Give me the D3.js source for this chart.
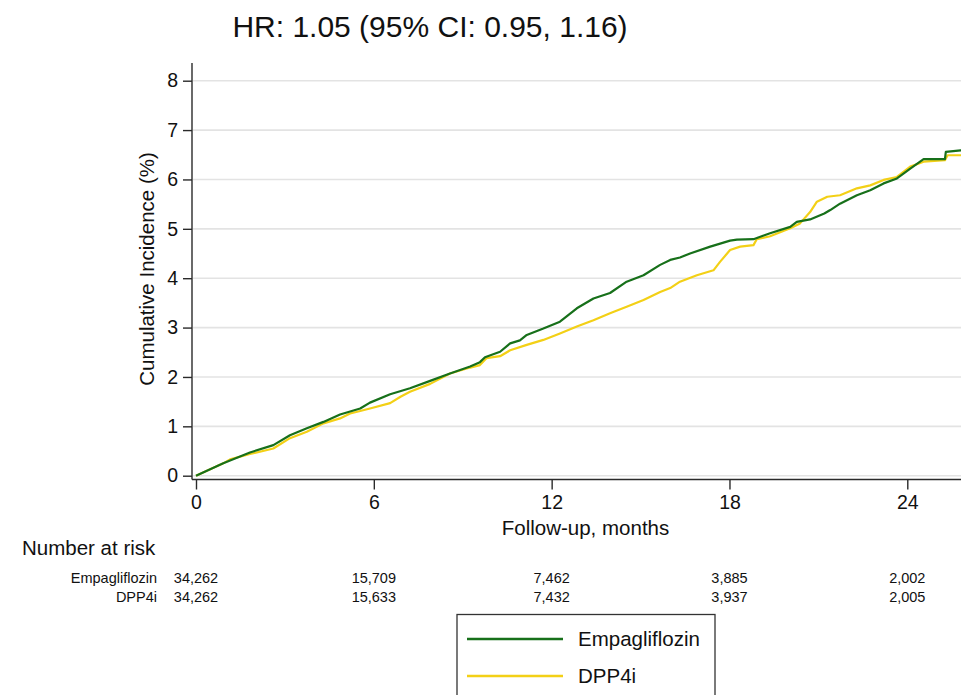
<!DOCTYPE html>
<html>
<head>
<meta charset="utf-8">
<script src="https://cdn.jsdelivr.net/npm/d3@7"></script>
<style>
  body { margin: 0; background: #fff; }
  svg { display: block; font-family: "Liberation Sans", Arial, sans-serif; }
</style>
</head>
<body>
<svg id="chart" width="961" height="695"></svg>
<script>
// ---------- data ----------
const title = "HR: 1.05 (95% CI: 0.95, 1.16)";
const seriesNames = ["Empagliflozin", "DPP4i"];
const xTicks = [0, 6, 12, 18, 24];
const yTicks = [0, 1, 2, 3, 4, 5, 6, 7, 8];

// [month, cumulative incidence %]
const empagliflozin = [
  [0,0],[0.92,0.25],[1.82,0.47],[2.61,0.62],[3.17,0.82],[3.74,0.96],[4.3,1.09],
  [4.86,1.24],[5.54,1.36],[5.87,1.48],[6.55,1.65],[7.22,1.77],[7.9,1.92],[8.57,2.07],
  [9.25,2.21],[9.58,2.30],[9.75,2.40],[10.26,2.51],[10.6,2.68],[10.93,2.74],[11.16,2.85],
  [11.72,2.98],[12.28,3.12],[12.85,3.39],[13.41,3.59],[13.97,3.70],[14.53,3.93],[15.1,4.06],
  [15.66,4.27],[16.0,4.37],[16.33,4.42],[16.67,4.50],[17.35,4.64],[18.02,4.76],[18.25,4.78],
  [18.81,4.79],[19.37,4.91],[20.05,5.04],[20.27,5.14],[20.72,5.19],[21.2,5.31],[21.4,5.38],
  [21.73,5.51],[22.3,5.68],[22.75,5.78],[23.2,5.92],[23.65,6.02],[24.1,6.22],[24.55,6.41],
  [25.27,6.41],[25.3,6.56],[25.8,6.59],[26.5,6.59]
];
const dpp4i = [
  [0,0],[0.92,0.25],[1.15,0.33],[1.82,0.44],[2.61,0.55],[3.17,0.76],[3.74,0.89],[4.3,1.06],
  [4.86,1.16],[5.2,1.26],[5.54,1.31],[5.87,1.36],[6.55,1.47],[6.9,1.60],[7.22,1.70],
  [7.9,1.86],[8.57,2.07],[9.25,2.19],[9.58,2.24],[9.8,2.38],[10.26,2.42],[10.6,2.54],
  [11.16,2.65],[11.72,2.75],[12.28,2.88],[12.85,3.02],[13.41,3.15],[13.97,3.29],[14.53,3.42],
  [15.1,3.56],[15.66,3.72],[16.0,3.80],[16.33,3.93],[16.9,4.06],[17.46,4.16],[17.68,4.33],
  [18.02,4.57],[18.36,4.64],[18.81,4.67],[18.92,4.79],[19.37,4.85],[20.05,5.01],[20.38,5.11],
  [20.72,5.34],[20.95,5.55],[21.3,5.65],[21.73,5.68],[22.3,5.82],[22.75,5.88],[23.2,5.99],
  [23.65,6.05],[24.1,6.26],[24.55,6.36],[25.27,6.39],[25.36,6.49],[25.8,6.49],[26.5,6.49]
];
const riskLabel = "Number at risk";
const riskEmpa = ["34,262", "15,709", "7,462", "3,885", "2,002"];
const riskDpp = ["34,262", "15,633", "7,432", "3,937", "2,005"];

// ---------- layout ----------
const colors = ["#17701a", "#f3d016"];
const svg = d3.select("#chart");
const W = 961, H = 695;

const x = d3.scaleLinear().domain([0, 24]).range([196, 907.3]);
const y = d3.scaleLinear().domain([0, 8]).range([475.7, 80.7]);
const axisX = 192, axisY = 479.5;

svg.append("defs").append("clipPath").attr("id", "clip")
  .append("rect").attr("x", axisX).attr("y", 50).attr("width", W - axisX).attr("height", axisY - 50);

// gridlines
svg.append("g").selectAll("line").data(yTicks).join("line")
  .attr("x1", axisX + 1).attr("x2", W)
  .attr("y1", d => y(d)).attr("y2", d => y(d))
  .attr("stroke", "#e3e3e3").attr("stroke-width", 1.6);

// y axis
const gy = svg.append("g").attr("transform", `translate(${axisX},0)`)
  .call(d3.axisLeft(y).tickValues(yTicks).tickSize(9).tickPadding(5).tickFormat(d3.format("d")));
gy.select(".domain").attr("d", `M0,63V${axisY}`).attr("stroke", "#2a2a2a").attr("stroke-width", 1.4);
gy.selectAll(".tick line").attr("stroke", "#2a2a2a").attr("stroke-width", 1.4);
gy.selectAll(".tick text").attr("font-size", 19.5).attr("fill", "#111")
  .attr("font-family", "Liberation Sans, Arial, sans-serif");

// x axis
const gx = svg.append("g").attr("transform", `translate(0,${axisY})`)
  .call(d3.axisBottom(x).tickValues(xTicks).tickSize(10).tickPadding(6).tickFormat(d3.format("d")));
gx.select(".domain").attr("d", `M${axisX},0H${W}`).attr("stroke", "#2a2a2a").attr("stroke-width", 1.4);
gx.selectAll(".tick line").attr("stroke", "#2a2a2a").attr("stroke-width", 1.4);
gx.selectAll(".tick text").attr("font-size", 19.5).attr("fill", "#111")
  .attr("font-family", "Liberation Sans, Arial, sans-serif");

// curves
const line = d3.line().x(d => x(d[0])).y(d => y(d[1])).curve(d3.curveLinear);
const g = svg.append("g").attr("clip-path", "url(#clip)");
[[dpp4i, colors[1]], [empagliflozin, colors[0]]].forEach(([s, c]) => {
  g.append("path").datum(s).attr("d", line)
    .attr("fill", "none").attr("stroke", c)
    .attr("stroke-width", 2.2).attr("stroke-linejoin", "round");
});

// titles
svg.append("text").attr("x", 430).attr("y", 37).attr("text-anchor", "middle")
  .attr("font-size", 30).attr("fill", "#111").text(title);
svg.append("text").attr("x", 585.5).attr("y", 535).attr("text-anchor", "middle")
  .attr("font-size", 20.5).attr("fill", "#111").text("Follow-up, months");
svg.append("text").attr("transform", "translate(154,269) rotate(-90)").attr("text-anchor", "middle")
  .attr("font-size", 20.5).attr("fill", "#111").text("Cumulative Incidence (%)");

// risk table
svg.append("text").attr("x", 22).attr("y", 555).attr("font-size", 20.5).attr("fill", "#111").text(riskLabel);
[[riskEmpa, 583], [riskDpp, 602]].forEach(([row, yy], i) => {
  svg.append("text").attr("x", 157).attr("y", yy).attr("text-anchor", "end")
    .attr("font-size", 14.5).attr("fill", "#111").text(seriesNames[i]);
  svg.append("g").selectAll("text").data(row).join("text")
    .attr("x", (d, j) => x(xTicks[j])).attr("y", yy).attr("text-anchor", "middle")
    .attr("font-size", 14.5).attr("fill", "#111").text(d => d);
});

// legend
const lg = svg.append("g");
lg.append("rect").attr("x", 457).attr("y", 614.5).attr("width", 258).attr("height", 120)
  .attr("fill", "#fff").attr("stroke", "#333").attr("stroke-width", 1.3);
seriesNames.forEach((n, i) => {
  const yy = 639 + i * 37;
  lg.append("line").attr("x1", 467).attr("x2", 563).attr("y1", yy).attr("y2", yy)
    .attr("stroke", colors[i]).attr("stroke-width", 2.4);
  lg.append("text").attr("x", 578).attr("y", yy + 7).attr("font-size", 20.5).attr("fill", "#111").text(n);
});
</script>
</body>
</html>
